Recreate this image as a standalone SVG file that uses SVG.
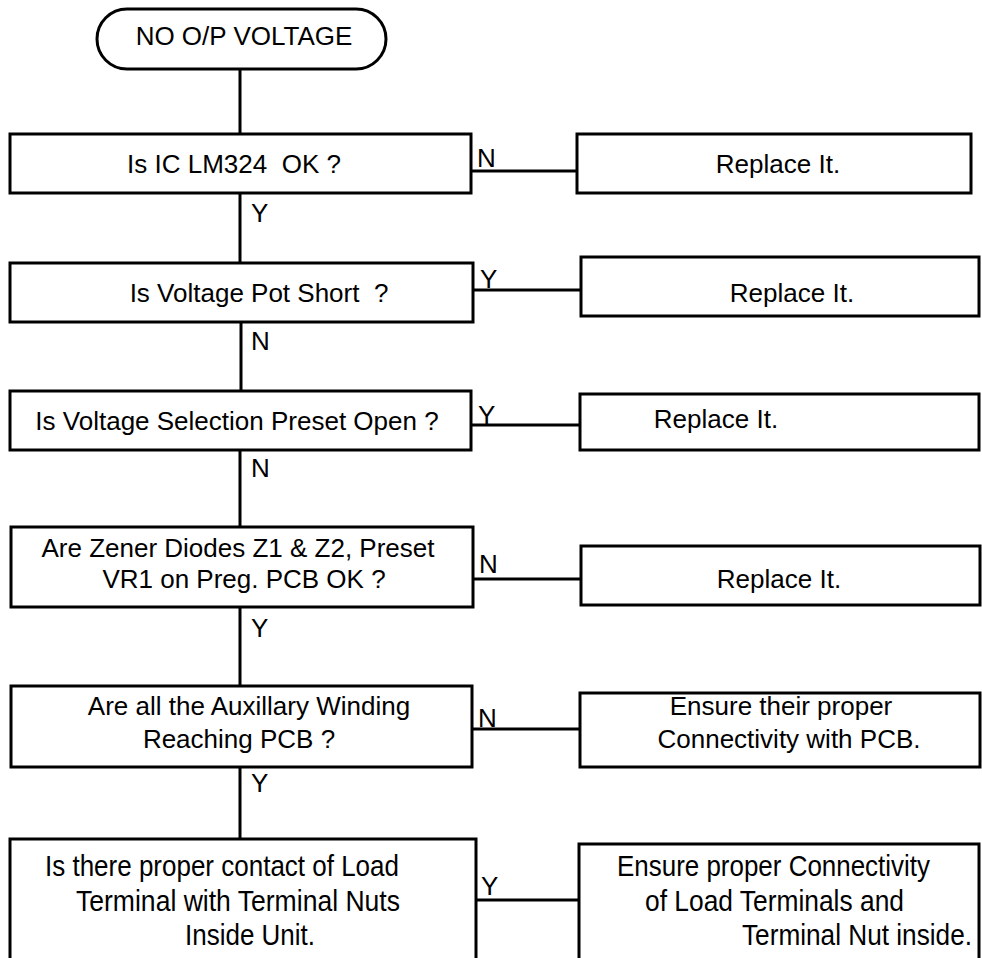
<svg xmlns="http://www.w3.org/2000/svg" width="982" height="958" viewBox="0 0 982 958">
<style>
.b{fill:#fff;stroke:#000;stroke-width:3}
.c{fill:none;stroke:#000;stroke-width:3}
text{font-family:"Liberation Sans",Arial,sans-serif;font-size:26px;fill:#000;white-space:pre}
.m{text-anchor:middle}
.n{font-size:29px}
</style>
<rect width="982" height="958" fill="#fff"/>
<g id="connectors">
<path class="c" d="M240 69V134M240 193V263M241 322V391M240 450V527M240 607V686M240 767V839"/>
<path class="c" d="M471 171H577M473 290H581M471 425H580M473 579H581M472 729H580M476 900H579"/>
<text x="251" y="222">Y</text>
<text x="251" y="350">N</text>
<text x="251" y="477">N</text>
<text x="251" y="637">Y</text>
<text x="251" y="792">Y</text>
<text x="477" y="167">N</text>
<text x="480" y="288">Y</text>
<text x="478" y="424">Y</text>
<text x="479" y="573">N</text>
<text x="478" y="727">N</text>
<text x="481" y="895">Y</text>
</g>
<g id="start">
<rect class="b" x="97" y="9" width="289" height="60" rx="30"/>
<text class="m" x="244" y="45">NO O/P VOLTAGE</text>
</g>
<g id="q1">
<rect class="b" x="10" y="134" width="461" height="59"/>
<text class="m" x="234" y="173">Is IC LM324  OK ?</text>
</g>
<g id="a1">
<rect class="b" x="577" y="134" width="394" height="59"/>
<text class="m" x="778" y="173">Replace It.</text>
</g>
<g id="q2">
<rect class="b" x="10" y="263" width="463" height="59"/>
<text class="m" x="259" y="302">Is Voltage Pot Short  ?</text>
</g>
<g id="a2">
<rect class="b" x="581" y="257" width="398" height="59"/>
<text class="m" x="792" y="302">Replace It.</text>
</g>
<g id="q3">
<rect class="b" x="10" y="391" width="461" height="59"/>
<text class="m" x="237" y="430">Is Voltage Selection Preset Open ?</text>
</g>
<g id="a3">
<rect class="b" x="580" y="394" width="399" height="56"/>
<text class="m" x="716" y="428">Replace It.</text>
</g>
<g id="q4">
<rect class="b" x="11" y="527" width="462" height="80"/>
<text class="m" x="238" y="557">Are Zener Diodes Z1 &amp; Z2, Preset</text>
<text class="m" x="244" y="588">VR1 on Preg. PCB OK ?</text>
</g>
<g id="a4">
<rect class="b" x="581" y="546" width="399" height="59"/>
<text class="m" x="779" y="588">Replace It.</text>
</g>
<g id="q5">
<rect class="b" x="11" y="686" width="461" height="81"/>
<text class="m" x="249" y="715">Are all the Auxillary Winding</text>
<text class="m" x="239" y="748">Reaching PCB ?</text>
</g>
<g id="a5">
<rect class="b" x="580" y="693" width="400" height="74"/>
<text class="m" x="781" y="715">Ensure their proper</text>
<text class="m" x="789" y="748">Connectivity with PCB.</text>
</g>
<g id="q6">
<rect class="b" x="10" y="839" width="466" height="135"/>
<text class="n" x="45" y="876" textLength="354" lengthAdjust="spacingAndGlyphs">Is there proper contact of Load</text>
<text class="n" x="76" y="911" textLength="324" lengthAdjust="spacingAndGlyphs">Terminal with Terminal Nuts</text>
<text class="n" x="185" y="945" textLength="130" lengthAdjust="spacingAndGlyphs">Inside Unit.</text>
</g>
<g id="a6">
<rect class="b" x="579" y="844" width="400" height="130"/>
<text class="n" x="617" y="876" textLength="313" lengthAdjust="spacingAndGlyphs">Ensure proper Connectivity</text>
<text class="n" x="645" y="911" textLength="259" lengthAdjust="spacingAndGlyphs">of Load Terminals and</text>
<text class="n" x="742" y="945" textLength="230" lengthAdjust="spacingAndGlyphs">Terminal Nut inside.</text>
</g>
</svg>
